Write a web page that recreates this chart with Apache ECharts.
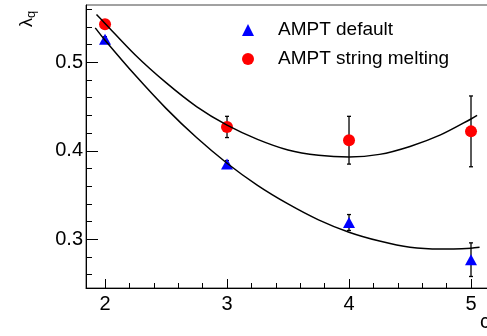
<!DOCTYPE html>
<html>
<head>
<meta charset="utf-8">
<script src="https://cdn.jsdelivr.net/npm/echarts@6/dist/echarts.min.js"></script>
<style>
  html, body { margin: 0; padding: 0; background: #fff; }
  #chart { width: 487px; height: 336px; }
</style>
</head>
<body>
<div id="chart"></div>
<script>
// measured points (x = 2..5)
const xValues = [2, 3, 4, 5];
const defaultLambda = [0.526, 0.385, 0.319, 0.277];
const defaultErr = [0.003, 0.004, 0.009, 0.019];
const meltingLambda = [0.543, 0.427, 0.412, 0.422];
const meltingErr = [0.004, 0.012, 0.027, 0.040];

// fit curves
const meltingFitX = [1.93, 2.0, 2.25, 2.5, 2.75, 3.0, 3.25, 3.5, 3.75, 4.0, 4.25, 4.5, 4.75, 5.0, 5.05];
const meltingFitY = [0.554, 0.544, 0.508, 0.477, 0.450, 0.429, 0.413, 0.401, 0.395, 0.393, 0.396, 0.405, 0.418, 0.436, 0.440];
const defaultFitX = [1.92, 2.0, 2.25, 2.5, 2.75, 3.0, 3.25, 3.5, 3.75, 4.0, 4.25, 4.5, 4.75, 5.0, 5.07];
const defaultFitY = [0.539, 0.525, 0.485, 0.448, 0.415, 0.386, 0.361, 0.340, 0.322, 0.308, 0.298, 0.291, 0.289, 0.290, 0.291];

// tick marks
const xMajor = [2, 3, 4, 5];
const xMinor = [2.2, 2.4, 2.6, 2.8, 3.2, 3.4, 3.6, 3.8, 4.2, 4.4, 4.6, 4.8];
const yMajor = [0.3, 0.4, 0.5];
const yMinor = [0.26, 0.28, 0.32, 0.34, 0.36, 0.38, 0.42, 0.44, 0.46, 0.48, 0.52, 0.54, 0.56];

const font = "'Liberation Sans', Arial, Helvetica, sans-serif";
const X_MIN = 1.844, X_MAX = 5.3;
const Y_MIN = 0.245, Y_MAX = 0.5648;

const zip = (xs, ys) => xs.map((x, i) => [x, ys[i]]);
const withErr = (ys, errs) => xValues.map((x, i) => [x, ys[i], errs[i]]);

function renderErrorBar(params, api) {
  const x = api.value(0);
  const y = api.value(1);
  const e = api.value(2);
  const top = api.coord([x, y + e]);
  const bottom = api.coord([x, y - e]);
  const cap = 2;
  const style = { stroke: '#000', lineWidth: 1.3 };
  return {
    type: 'group',
    children: [
      { type: 'line', shape: { x1: top[0], y1: top[1], x2: bottom[0], y2: bottom[1] }, style },
      { type: 'line', shape: { x1: top[0] - cap, y1: top[1], x2: top[0] + cap, y2: top[1] }, style },
      { type: 'line', shape: { x1: bottom[0] - cap, y1: bottom[1], x2: bottom[0] + cap, y2: bottom[1] }, style },
    ],
  };
}

const chart = echarts.init(document.getElementById('chart'), null, { renderer: 'canvas' });

const baseX = { type: 'value', position: 'bottom', min: X_MIN, max: X_MAX, splitLine: { show: false } };
const baseY = { type: 'value', position: 'left', min: Y_MIN, max: Y_MAX, splitLine: { show: false } };

chart.setOption({
  animation: false,
  textStyle: { fontFamily: font },
  grid: {
    left: 86,
    top: 5,
    bottom: 48,
    // x = 1.844 .. 5.3 at 122 px per unit; the right edge runs past the page
    width: 421.6,
    outerBoundsMode: 'none',
    containLabel: false,
    show: true,
    borderColor: '#444',
    borderWidth: 1,
  },
  xAxis: [
    {
      ...baseX,
      axisLine: { lineStyle: { color: '#000', width: 1 } },
      axisTick: { inside: true, length: 9, customValues: xMajor, lineStyle: { color: '#000' } },
      axisLabel: { customValues: xMajor, margin: 6, color: '#000', fontSize: 20, fontFamily: font },
    },
    {
      ...baseX,
      axisLine: { show: false },
      axisTick: { inside: true, length: 5, customValues: xMinor, lineStyle: { color: '#000' } },
      axisLabel: { show: false },
    },
  ],
  yAxis: [
    {
      ...baseY,
      axisLine: { show: true, lineStyle: { color: '#000', width: 1 } },
      axisTick: { show: true, inside: true, length: 12, customValues: yMajor, lineStyle: { color: '#000' } },
      axisLabel: {
        customValues: yMajor, margin: 3, color: '#000', fontSize: 20, fontFamily: font,
        formatter: (v) => v.toFixed(1),
      },
    },
    {
      ...baseY,
      axisLine: { show: false },
      axisTick: { show: true, inside: true, length: 6, customValues: yMinor, lineStyle: { color: '#000' } },
      axisLabel: { show: false },
    },
  ],
  legend: {
    orient: 'vertical',
    left: 237,
    top: 15,
    itemWidth: 12,
    itemHeight: 12,
    itemGap: 9,
    data: ['AMPT default', 'AMPT string melting'],
    textStyle: { fontSize: 19, color: '#000', fontFamily: font, lineHeight: 20, padding: [0, 0, 0, 19] },
  },
  graphic: [
    {
      type: 'text',
      x: 27,
      y: 19,
      rotation: Math.PI / 2,
      style: {
        text: '{l|λ}{s|q}',
        align: 'center',
        verticalAlign: 'middle',
        rich: {
          l: { fontSize: 18, fontFamily: font, fill: '#000' },
          s: { fontSize: 13, fontFamily: font, fill: '#000', padding: [8, 0, 0, 0] },
        },
      },
    },
    {
      type: 'text',
      x: 480,
      y: 312,
      style: { text: 'c', fontSize: 20, fontFamily: font, fill: '#000' },
    },
  ],
  series: [
    {
      type: 'custom',
      name: 'default errors',
      renderItem: renderErrorBar,
      data: withErr(defaultLambda, defaultErr),
      z: 2,
    },
    {
      type: 'custom',
      name: 'melting errors',
      renderItem: renderErrorBar,
      data: withErr(meltingLambda, meltingErr),
      z: 2,
    },
    {
      type: 'scatter',
      name: 'AMPT default',
      symbol: 'triangle',
      symbolSize: [12, 11],
      itemStyle: { color: '#0000ff', opacity: 1 },
      data: zip(xValues, defaultLambda),
      z: 3,
    },
    {
      type: 'scatter',
      name: 'AMPT string melting',
      symbol: 'circle',
      symbolSize: 12,
      itemStyle: { color: '#ff0000', opacity: 1 },
      data: zip(xValues, meltingLambda),
      z: 3,
    },
    {
      type: 'line',
      name: 'melting fit',
      smooth: 0.3,
      showSymbol: false,
      lineStyle: { color: '#000', width: 1.5 },
      data: zip(meltingFitX, meltingFitY),
      z: 4,
    },
    {
      type: 'line',
      name: 'default fit',
      smooth: 0.3,
      showSymbol: false,
      lineStyle: { color: '#000', width: 1.5 },
      data: zip(defaultFitX, defaultFitY),
      z: 4,
    },
  ],
});
</script>
</body>
</html>
